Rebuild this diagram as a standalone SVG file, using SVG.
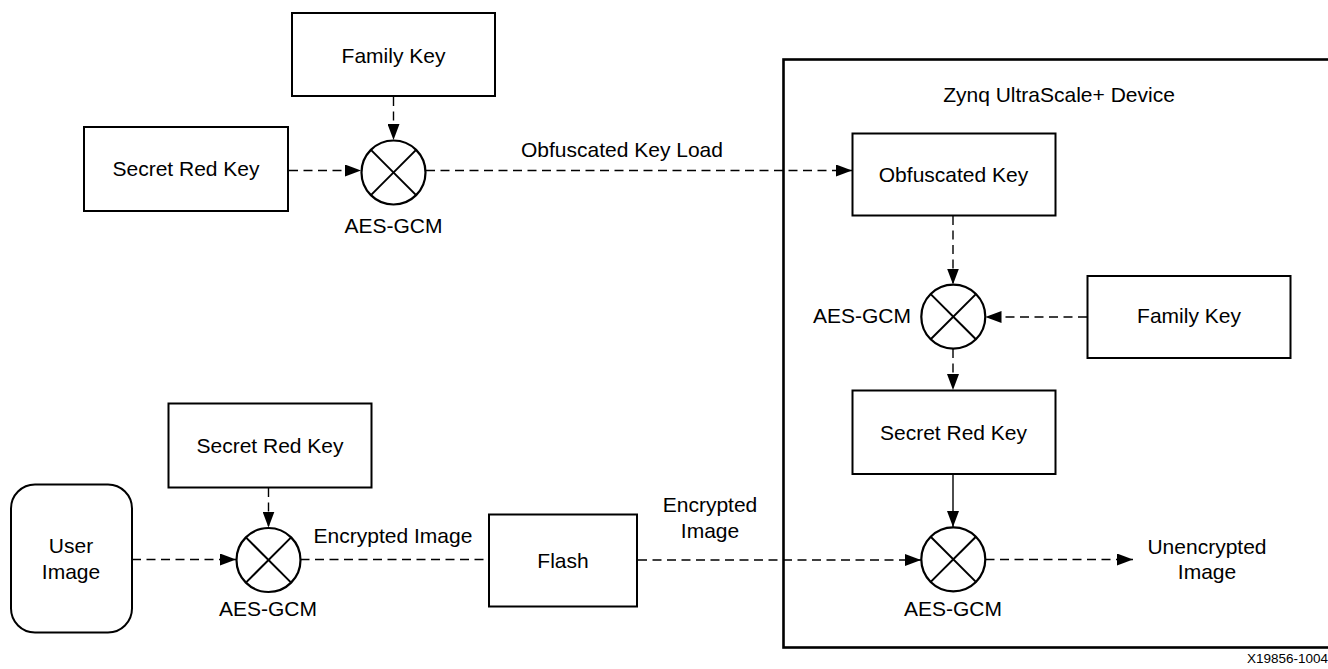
<svg xmlns="http://www.w3.org/2000/svg" width="1328" height="669" viewBox="0 0 1328 669">
<style>
  .box { fill: #fff; stroke: #000; stroke-width: 2; }
  .dev { fill: none; stroke: #000; stroke-width: 2.6; }
  .op { fill: #fff; stroke: #000; stroke-width: 2.2; }
  .x { stroke: #000; stroke-width: 2; }
  .t { font-family: "Liberation Sans", Arial, sans-serif; font-size: 21px; fill: #000; text-anchor: middle; }
  .dash { fill: none; stroke: #000; stroke-width: 1.4; stroke-dasharray: 9 5.5; }
  .solid { fill: none; stroke: #000; stroke-width: 1.4; }
  .arr { marker-end: url(#ah); }
  .id { font-family: "Liberation Sans", Arial, sans-serif; font-size: 13.5px; fill: #000; }
</style>
<defs>
  <marker id="ah" markerUnits="userSpaceOnUse" markerWidth="16" markerHeight="12" refX="16" refY="6" orient="auto">
    <path d="M0,0 L16,6 L0,12 z" fill="#000"/>
  </marker>
</defs>
<rect width="1328" height="669" fill="#fff"/>

<g id="device">
  <rect class="dev" x="783.5" y="59.5" width="600" height="588"/>
  <text class="t" x="1059" y="101.5">Zynq UltraScale+ Device</text>
</g>

<g id="connectors">
  <line class="dash arr" x1="393.5" y1="97" x2="393.5" y2="140"/>
  <line class="dash arr" x1="289" y1="170.5" x2="361" y2="170.5"/>
  <line class="dash arr" x1="426" y1="170.5" x2="852" y2="170.5"/>
  <line class="dash arr" x1="953" y1="216" x2="953" y2="284.5"/>
  <line class="dash arr" x1="1087" y1="317" x2="985.5" y2="317"/>
  <line class="dash arr" x1="953" y1="349" x2="953" y2="390"/>
  <line class="solid arr" x1="953" y1="474.5" x2="953" y2="527"/>
  <line class="dash arr" x1="638" y1="560" x2="921" y2="560"/>
  <line class="dash arr" x1="985.5" y1="559.5" x2="1133" y2="559.5"/>
  <line class="dash arr" x1="132" y1="559.5" x2="236" y2="559.5"/>
  <line class="dash arr" x1="268.5" y1="488" x2="268.5" y2="527.5"/>
  <line class="dash" x1="300.5" y1="559.5" x2="489" y2="559.5"/>
</g>

<g id="family-key-1">
  <rect class="box" x="292" y="13" width="203" height="83"/>
  <text class="t" x="393.5" y="63">Family Key</text>
</g>
<g id="secret-red-key-1">
  <rect class="box" x="84" y="127" width="204" height="84"/>
  <text class="t" x="186" y="176">Secret Red Key</text>
</g>
<g id="aes-gcm-1">
  <circle class="op" cx="393.5" cy="172.5" r="32"/>
  <line class="x" x1="370.9" y1="149.9" x2="416.1" y2="195.1"/>
  <line class="x" x1="416.1" y1="149.9" x2="370.9" y2="195.1"/>
  <text class="t" x="393.5" y="233">AES-GCM</text>
</g>
<text class="t" x="622" y="157">Obfuscated Key Load</text>

<g id="obfuscated-key">
  <rect class="box" x="852.5" y="133.5" width="203" height="82"/>
  <text class="t" x="953.5" y="181.5">Obfuscated Key</text>
</g>
<g id="aes-gcm-2">
  <circle class="op" cx="953.3" cy="316.7" r="32"/>
  <line class="x" x1="930.7" y1="294.1" x2="975.9" y2="339.3"/>
  <line class="x" x1="975.9" y1="294.1" x2="930.7" y2="339.3"/>
  <text class="t" x="911" y="322.5" style="text-anchor:end">AES-GCM</text>
</g>
<g id="family-key-2">
  <rect class="box" x="1087.5" y="276" width="203" height="82"/>
  <text class="t" x="1189" y="322.5">Family Key</text>
</g>
<g id="secret-red-key-2">
  <rect class="box" x="852.5" y="390.5" width="203" height="83.5"/>
  <text class="t" x="953.5" y="440">Secret Red Key</text>
</g>
<g id="aes-gcm-3">
  <circle class="op" cx="953.3" cy="559.3" r="32"/>
  <line class="x" x1="930.7" y1="536.7" x2="975.9" y2="581.9"/>
  <line class="x" x1="975.9" y1="536.7" x2="930.7" y2="581.9"/>
  <text class="t" x="953" y="616">AES-GCM</text>
</g>
<g id="unencrypted-image">
  <text class="t" x="1207" y="553.5">Unencrypted</text>
  <text class="t" x="1207" y="578.5">Image</text>
</g>

<g id="user-image">
  <rect class="box" x="11" y="484.5" width="121" height="148" rx="24" ry="24"/>
  <text class="t" x="71" y="552.5">User</text>
  <text class="t" x="71" y="578.5">Image</text>
</g>
<g id="secret-red-key-3">
  <rect class="box" x="168.5" y="403.5" width="203" height="84"/>
  <text class="t" x="270" y="452.5">Secret Red Key</text>
</g>
<g id="aes-gcm-4">
  <circle class="op" cx="268.5" cy="560" r="32"/>
  <line class="x" x1="245.9" y1="537.4" x2="291.1" y2="582.6"/>
  <line class="x" x1="291.1" y1="537.4" x2="245.9" y2="582.6"/>
  <text class="t" x="268" y="616">AES-GCM</text>
</g>
<text class="t" x="393" y="542.5">Encrypted Image</text>
<g id="flash">
  <rect class="box" x="489" y="514.5" width="148" height="92"/>
  <text class="t" x="563" y="567.5">Flash</text>
</g>
<g id="encrypted-image-label">
  <text class="t" x="710" y="512">Encrypted</text>
  <text class="t" x="710" y="537.5">Image</text>
</g>

<text class="id" x="1247" y="663">X19856-1004</text>
</svg>
